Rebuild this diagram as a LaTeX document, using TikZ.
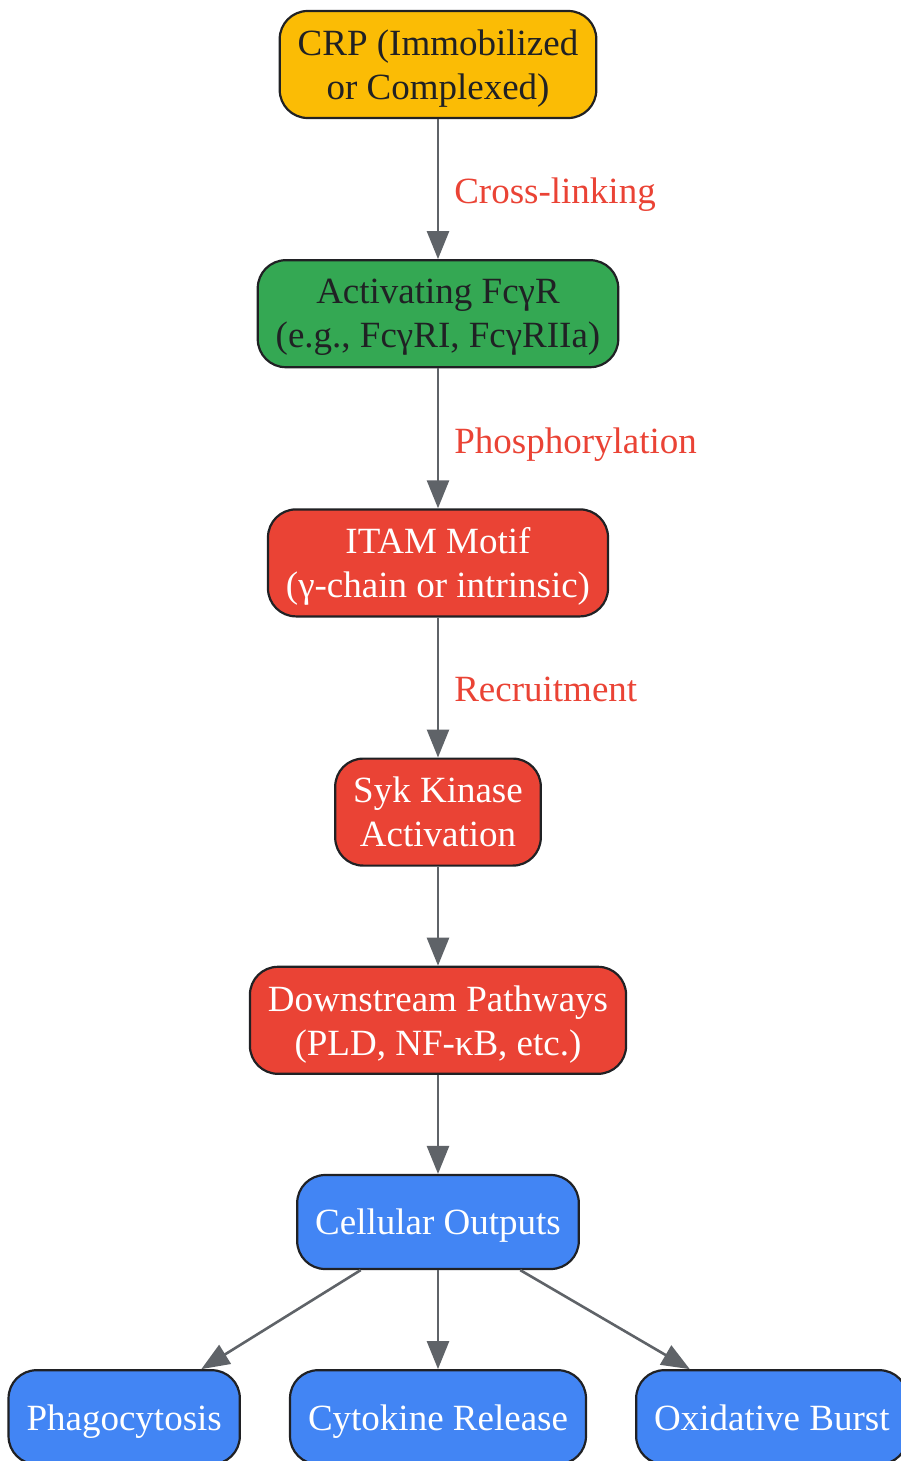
\documentclass[tikz,border=0pt]{standalone}
\usepackage{fontspec}
\setmainfont{Liberation Serif}
\usetikzlibrary{positioning, arrows.meta}
\definecolor{crpyellow}{HTML}{FBBC05}
\definecolor{receptorgreen}{HTML}{34A853}
\definecolor{kinasered}{HTML}{EA4335}
\definecolor{outputblue}{HTML}{4285F4}
\definecolor{borderdark}{HTML}{202124}
\definecolor{arrowgray}{HTML}{5F6368}
\tikzset{box/.style = {rectangle, rounded corners=28pt, draw=borderdark,
    line width=2.2pt, align=center, inner xsep=18pt, inner ysep=0pt,
    text depth=0pt, font=\fontsize{37}{44}\selectfont}}
\tikzset{stage/.style = {box, minimum height=107pt}}
\tikzset{output/.style = {box, minimum height=94pt, fill=outputblue, text=white}}
\tikzset{signal/.style = {-{Triangle[length=28pt, width=22pt]}, line width=2.6pt, draw=arrowgray}}
\tikzset{signal label/.style = {text=kinasered, inner xsep=15pt, text depth=0pt,
    yshift=-2pt, font=\fontsize{37}{44}\selectfont}}

\begin{document}
\begin{tikzpicture}[auto, node distance=140pt, x=1pt, y=1pt]
  \useasboundingbox (0,0) rectangle (900,-1461);

  \node[stage, fill=crpyellow, text=borderdark] (crp) at (438,-64.5)
    {CRP (Immobilized\\or Complexed)};
  \node[stage, fill=receptorgreen, text=borderdark] (fcgr) [below = of crp]
    {Activating FcγR\\(e.g., FcγRI, FcγRIIa)};
  \node[stage, fill=kinasered, text=white] (itam) [below = of fcgr]
    {ITAM Motif\\(γ-chain or intrinsic)};
  \node[stage, fill=kinasered, text=white] (syk) [below = of itam]
    {Syk Kinase\\Activation};
  \node[stage, fill=kinasered, text=white] (downstream) [below = 99pt of syk]
    {Downstream Pathways\\(PLD, NF-κB, etc.)};

  \node[output] (outputs) [below = 99pt of downstream] {Cellular Outputs};
  \node[output] (cytokine) [below = 99pt of outputs] {Cytokine Release};
  \node[output] (phago) [left = 48pt of cytokine] {Phagocytosis};
  \node[output] (burst) [right = 48pt of cytokine] {Oxidative Burst};

  \path (crp)
    edge[signal] node[signal label] {Cross-linking} (fcgr);
  \path (fcgr)
    edge[signal] node[signal label] {Phosphorylation} (itam);
  \path (itam)
    edge[signal] node[signal label] {Recruitment} (syk);
  \path (syk) edge[signal] (downstream);
  \path (downstream) edge[signal] (outputs);
  \path (outputs)
    edge[signal] (phago)
    edge[signal] (cytokine)
    edge[signal] (burst);
\end{tikzpicture}
\end{document}
